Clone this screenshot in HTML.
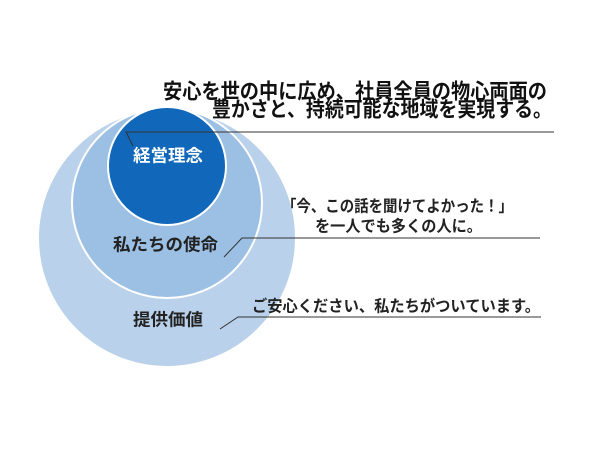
<!DOCTYPE html>
<html><head><meta charset="utf-8"><style>
html,body{margin:0;padding:0;background:#fff;}
svg{display:block;}
text{font-family:"Liberation Sans","Noto Sans CJK JP",sans-serif;font-weight:bold;dominant-baseline:central;}
</style></head><body>
<svg width="600" height="464" viewBox="0 0 600 464">
<circle cx="167" cy="238" r="129" fill="#b9d1ea" stroke="#fff" stroke-width="2"/>
<circle cx="167" cy="203" r="95" fill="#9cc0e4" stroke="#fff" stroke-width="2"/>
<circle cx="167" cy="166" r="59" fill="#1167b9" stroke="#fff" stroke-width="2"/>
<g stroke="#333" stroke-width="1" fill="none">
<polyline points="133,146 126,132 554,132"/>
<polyline points="224,257 242,238 540,238"/>
<polyline points="220,329 238,317 541,317"/>
</g>
<text x="163" y="92" textLength="384" lengthAdjust="spacingAndGlyphs" font-size="21" fill="#111">安心を世の中に広め、社員全員の物心両面の</text>
<text x="212" y="110" textLength="340" lengthAdjust="spacingAndGlyphs" font-size="21" fill="#111">豊かさと、持続可能な地域を実現する。</text>
<text x="282" y="207" textLength="231" lengthAdjust="spacingAndGlyphs" font-size="16" fill="#222">「今、この話を聞けてよかった！」</text>
<text x="315" y="227" textLength="167" lengthAdjust="spacingAndGlyphs" font-size="16" fill="#222">を一人でも多くの人に。</text>
<text x="252" y="307" textLength="288" lengthAdjust="spacingAndGlyphs" font-size="16" fill="#222">ご安心ください、私たちがついています。</text>
<text x="133" y="156" textLength="70" lengthAdjust="spacingAndGlyphs" font-size="17" fill="#fff">経営理念</text>
<text x="113" y="245" textLength="105" lengthAdjust="spacingAndGlyphs" font-size="17" fill="#222">私たちの使命</text>
<text x="133" y="320" textLength="70" lengthAdjust="spacingAndGlyphs" font-size="17" fill="#222">提供価値</text>
</svg>
</body></html>
